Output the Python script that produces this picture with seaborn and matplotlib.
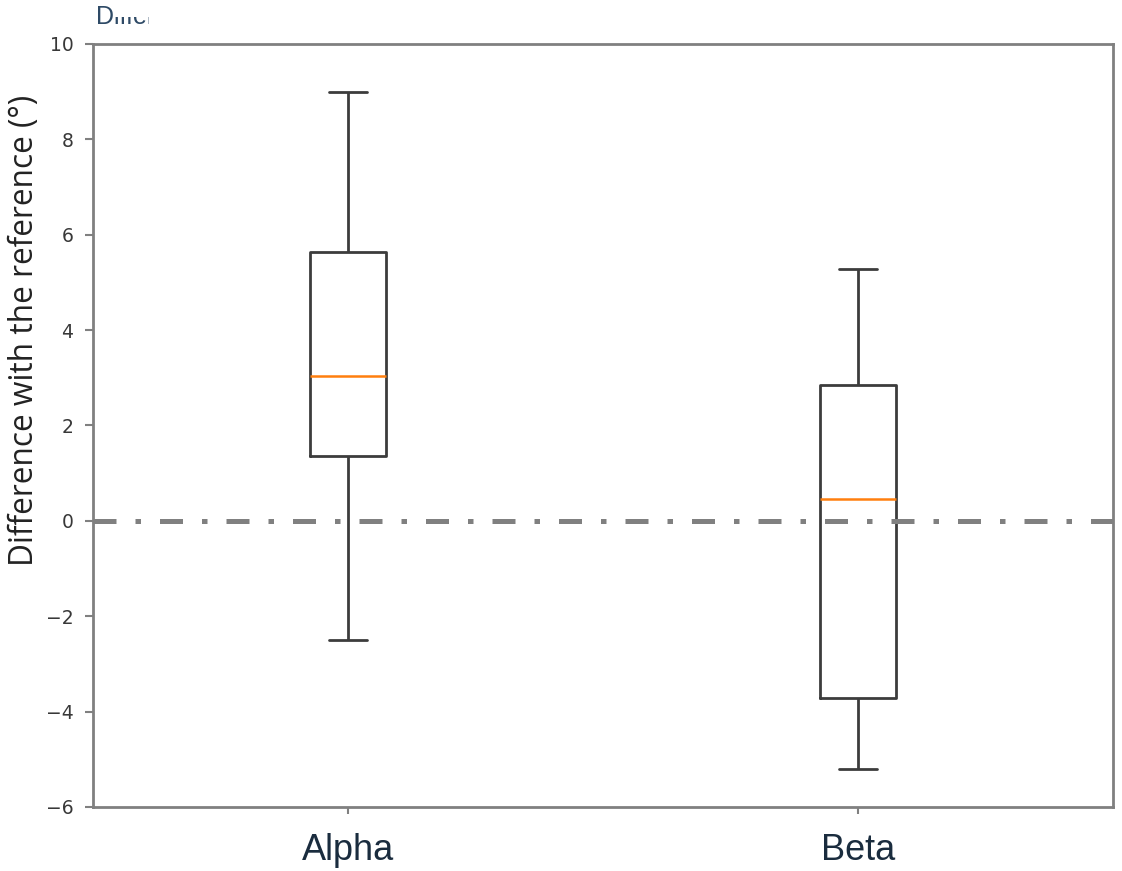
import matplotlib
matplotlib.use("Agg")
import matplotlib.pyplot as plt
import pandas as pd
import seaborn as sns
from matplotlib.transforms import Bbox

# Summary statistics per method (degrees)
groups = ["Alpha", "Beta"]
whisker_low = [-2.5, -5.2]
q1 = [1.35, -3.72]
medians = [3.04, 0.46]
q3 = [5.63, 2.84]
whisker_high = [9.0, 5.29]
reference_value = 0.0
y_ticks = [-6, -4, -2, 0, 2, 4, 6, 8, 10]

# Five-number summaries as long-form data; with whis=(0, 100) and linear
# percentiles the boxplot reproduces exactly these quartiles and whiskers.
rows = []
for g, lo, a, m, b, hi in zip(groups, whisker_low, q1, medians, q3, whisker_high):
    for v in (lo, a, m, b, hi):
        rows.append({"method": g, "difference": v})
df = pd.DataFrame(rows)

sns.set_style("ticks")
plt.rcParams["font.family"] = ["DejaVu Sans"]

W, H = 1122, 871
fig = plt.figure(figsize=(W / 100, H / 100), dpi=100)
ax = fig.add_axes([93 / W, 1 - 807 / H, (1113 - 93) / W, (807 - 44) / H])

sns.boxplot(
    data=df, x="method", y="difference", order=groups,
    whis=(0, 100), width=0.148, fill=False, color="#3c3c3c", linewidth=2.0,
    medianprops={"color": "#ff7f0e", "linewidth": 1.8},
    ax=ax,
)

ax.axhline(reference_value, color="#808080", lw=3.6,
           linestyle=(0, (4.6, 3.8, 1.1, 3.8)), zorder=5)

ax.set_ylim(-6, 10)
ax.set_yticks(y_ticks)
ax.set_yticklabels([str(t).replace("-", "\u2212") for t in y_ticks])
ax.set_xlabel("")
ax.set_ylabel("Difference with the reference (\u00b0)", fontsize=22.8,
              color="#222222", family=["Open Sans", "DejaVu Sans"])
ax.yaxis.set_label_coords(-0.051, (807 - 330) / (807 - 44))

for side in ["left", "right", "top", "bottom"]:
    ax.spines[side].set_visible(True)
    ax.spines[side].set_color("#808080")
    ax.spines[side].set_linewidth(2.0)

ax.tick_params(axis="y", length=6, width=1.5, color="#808080",
               labelsize=13.5, labelcolor="#383838", pad=8)
ax.tick_params(axis="x", length=5, width=1.5, color="#808080", pad=14)
for lbl in ax.get_xticklabels():
    lbl.set_fontfamily(["Liberation Sans", "DejaVu Sans"])
    lbl.set_fontsize(26)
    lbl.set_color("#1a2c3e")

# Heading at the top-left, only partly visible
for x0, x1, y_top in [(80, 113, 0), (113, 149, 17)]:
    head = fig.text(96 / W, 1 - 24 / H, "Difference", fontsize=18,
                    color="#2e4a66", va="baseline", ha="left",
                    family=["Liberation Sans", "DejaVu Sans"])
    head.set_clip_box(Bbox.from_extents(x0, H - 36, x1, H - y_top))
    head.set_clip_on(True)

fig.savefig("out.png", dpi=100)
